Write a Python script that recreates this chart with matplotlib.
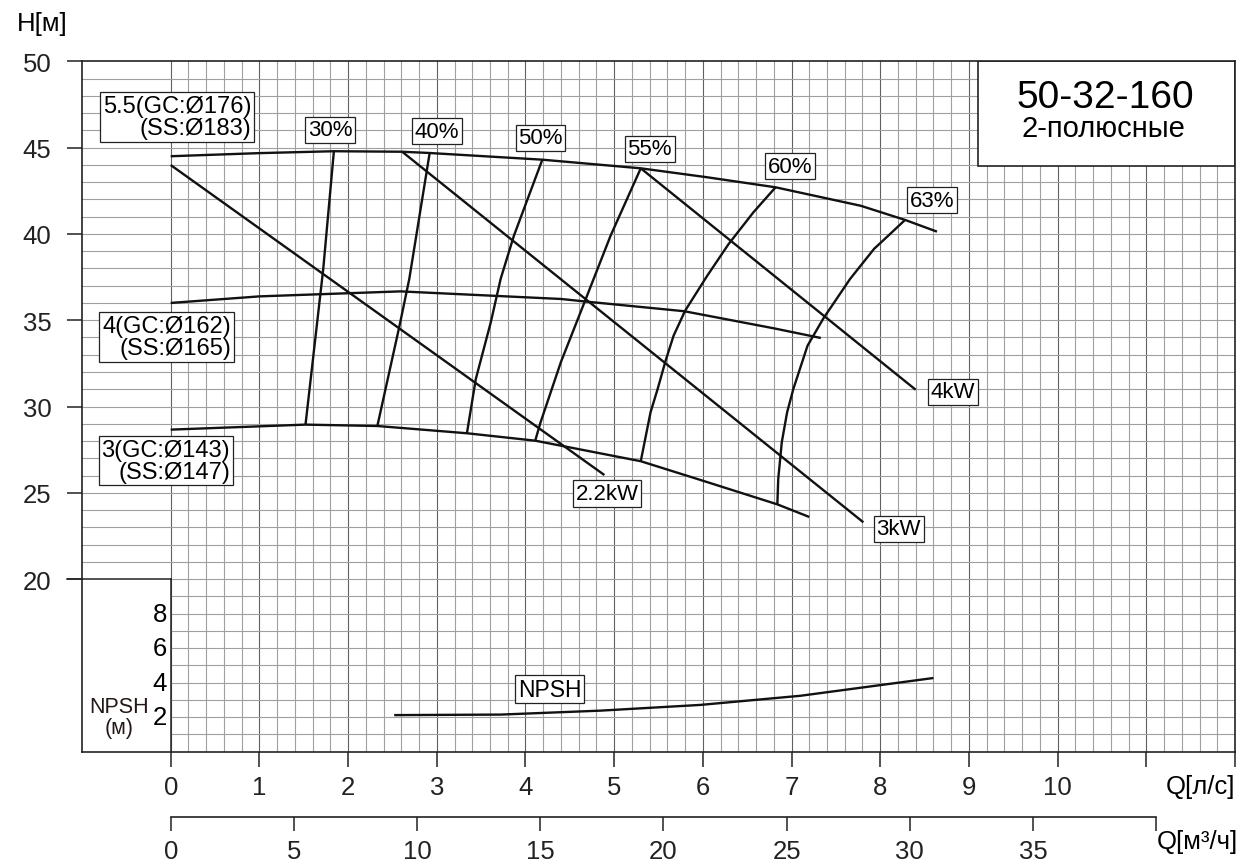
import numpy as np
import matplotlib
matplotlib.use("Agg")
from matplotlib import pyplot as plt
from matplotlib.patches import Rectangle

plt.rcParams['font.family'] = ['Liberation Sans', 'DejaVu Sans']

# H-Q curves, Q in l/s, H in m
q_55 = [0, 1.0, 1.84, 2.61, 2.91, 4.19, 5.30, 6.05, 6.82, 7.78, 8.28, 8.64]
h_55 = [44.50, 44.68, 44.79, 44.76, 44.69, 44.30, 43.80, 43.28, 42.70, 41.63, 40.81, 40.13]
q_4 = [0, 1.0, 2.59, 4.40, 4.70, 5.79, 6.80, 7.33]
h_4 = [36.00, 36.38, 36.67, 36.23, 36.07, 35.52, 34.53, 33.97]
q_3 = [0, 1.52, 2.33, 3.34, 4.11, 5.30, 6.00, 6.84, 7.20]
h_3 = [28.66, 28.95, 28.87, 28.45, 28.02, 26.83, 25.70, 24.33, 23.60]

# efficiency lines
eff = {
    '30%': ([1.84, 1.72, 1.52], [44.79, 37.97, 28.95]),
    '40%': ([2.92, 2.69, 2.58, 2.33], [44.69, 37.39, 34.68, 28.87]),
    '50%': ([4.19, 3.87, 3.72, 3.61, 3.44, 3.34], [44.30, 39.90, 37.39, 34.90, 31.59, 28.45]),
    '55%': ([5.30, 4.96, 4.68, 4.40, 4.17, 4.11], [43.80, 39.90, 36.23, 32.58, 29.08, 28.02]),
    '60%': ([6.82, 6.57, 6.29, 6.05, 5.80, 5.67, 5.58, 5.49, 5.41, 5.30],
            [42.70, 41.25, 39.41, 37.58, 35.55, 34.10, 32.65, 31.01, 29.66, 26.83]),
    '63%': ([8.28, 8.11, 7.93, 7.66, 7.36, 7.18, 7.02, 6.95, 6.89, 6.85, 6.84],
            [40.81, 39.99, 39.13, 37.39, 35.11, 33.52, 31.01, 29.66, 27.93, 25.80, 24.33]),
}
eff_lbl_pos = {'30%': (1.80, 46.02), '40%': (3.00, 45.96), '50%': (4.17, 45.57),
               '55%': (5.40, 44.92), '60%': (6.98, 43.92), '63%': (8.58, 41.96)}

# power lines
power = {
    '2.2kW': ([0, 4.89], [43.99, 26.03]),
    '3kW': ([2.61, 7.81], [44.76, 23.29]),
    '4kW': ([5.30, 8.40], [43.80, 30.97]),
}
power_lbl_pos = {'2.2kW': (4.92, 24.95), '3kW': (8.21, 22.92), '4kW': (8.82, 30.85)}

# NPSH curve (m)
q_npsh = [2.52, 3.72, 4.85, 5.97, 7.10, 8.60]
npsh = [2.12, 2.15, 2.38, 2.71, 3.24, 4.27]
npsh_base = 10  # NPSH 0 sits at H=10 on the chart

x_ticks = list(range(0, 13))
x_labels = [str(i) for i in range(0, 11)] + ['', '']
m3h_ticks = list(range(0, 45, 5))
m3h_labels = [str(i) for i in range(0, 40, 5)] + ['']
y_ticks = [20, 25, 30, 35, 40, 45, 50]
npsh_ticks = [2, 4, 6, 8]

fig = plt.figure(figsize=(12.4, 8.62), dpi=100)
ax = fig.add_axes([82 / 1240, (862 - 752.7) / 862, (1235 - 82) / 1240, 690.4 / 862])
ax.set_xlim(-1, 12)
ax.set_ylim(10, 50)

lc = '#111111'
grid_c = '#a0a0a0'
dark_grid = '#606060'
tsize = 18.5

# grid
for i, q in enumerate(np.arange(0, 12.01, 0.2)):
    col = dark_grid if i % 5 == 0 else grid_c
    ax.plot([q, q], [10, 50], color=col, lw=0.8, zorder=1)
for h in range(11, 50):
    x0 = -1 if h > 20 else 0
    ax.plot([x0, 12], [h, h], color=grid_c, lw=0.8, zorder=1)
ax.plot([-1.17, 0], [20, 20], color='#222', lw=1.1, zorder=2, clip_on=False)
ax.plot([0, 0], [10, 20], color='#222', lw=1.1, zorder=2)

# curves
kw = dict(color=lc, lw=1.7, zorder=3, solid_capstyle='butt', solid_joinstyle='round')
ax.plot(q_55, h_55, **kw)
ax.plot(q_4, h_4, **kw)
ax.plot(q_3, h_3, **kw)
for k, (q, h) in eff.items():
    ax.plot(q, h, **kw)
for k, (q, h) in power.items():
    ax.plot(q, h, **kw)
ax.plot(q_npsh, np.array(npsh) + npsh_base, **kw)

box = dict(boxstyle='square,pad=0.12', fc='white', ec='#222', lw=0.9)
for k, (x, y) in eff_lbl_pos.items():
    ax.text(x, y, k, ha='center', va='center', fontsize=16, bbox=box, zorder=5)
for k, (x, y) in power_lbl_pos.items():
    ax.text(x, y, k, ha='center', va='center', fontsize=16, bbox=box, zorder=5)
ax.text(4.27, 13.62, 'NPSH', ha='center', va='center', fontsize=16.5, bbox=box, zorder=5)

ax.text(0.07, 46.77, '5.5(GC:Ø176)\n(SS:Ø183)', ha='center', va='center',
        multialignment='right', fontsize=17, bbox=box, zorder=5, linespacing=1.0)
ax.text(-0.045, 34.03, '4(GC:Ø162)\n(SS:Ø165)', ha='center', va='center',
        multialignment='right', fontsize=17, bbox=box, zorder=5, linespacing=1.0)
ax.text(-0.056, 26.87, '3(GC:Ø143)\n(SS:Ø147)', ha='center', va='center',
        multialignment='right', fontsize=17, bbox=box, zorder=5, linespacing=1.0)

# title box
ax.add_patch(Rectangle((9.1, 43.93), 2.9, 6.07, fc='white', ec='#222', lw=1.2, zorder=4))
ax.text(10.54, 47.95, '50-32-160', ha='center', va='center', fontsize=28, zorder=5)
ax.text(10.52, 46.15, '2-полюсные', ha='center', va='center', fontsize=21, zorder=5)

# NPSH scale
for n in npsh_ticks:
    ax.text(-0.04, n + npsh_base, str(n), ha='right', va='center', fontsize=tsize)
ax.text(-0.586, 12.01, 'NPSH\n(м)', ha='center', va='center', fontsize=15.5,
        color='#231815', linespacing=1.0)

# axes styling
for s in ax.spines.values():
    s.set_color('#222')
    s.set_linewidth(1.2)
    s.set_zorder(6)
ax.set_yticks(y_ticks)
ax.set_yticklabels([str(v) for v in y_ticks])
ax.set_xticks(x_ticks)
ax.set_xticklabels(x_labels)
ax.tick_params(axis='y', direction='out', length=11, width=1.1, pad=11, labelsize=tsize, colors='#222')
ax.tick_params(axis='x', direction='out', length=11, width=1.1, pad=6, labelsize=tsize, colors='#222')
ax.text(-1.45, 52.2, 'H[м]', ha='center', va='center', fontsize=tsize, clip_on=False)
ax.annotate('Q[л/с]', xy=(12.0, 0), xycoords=('data', 'axes fraction'),
            xytext=(0.5, -24.7), textcoords='offset points', ha='right', va='center', fontsize=tsize)

# m3/h axis
sec = ax.secondary_xaxis(-0.0941, functions=(lambda q: q * 3.6, lambda m: m / 3.6))
sec.set_xticks(m3h_ticks)
sec.set_xticklabels(m3h_labels)
sec.spines['bottom'].set_bounds(0, 40)
sec.spines['bottom'].set_color('#222')
sec.spines['bottom'].set_linewidth(1.2)
sec.tick_params(direction='out', length=10, width=1.1, pad=6, labelsize=tsize, colors='#222')
ax.annotate('Q[м³/ч]', xy=(12.0, 0), xycoords=('data', 'axes fraction'),
            xytext=(2, -64), textcoords='offset points', ha='right', va='center', fontsize=tsize)

fig.savefig('out.png', dpi=100)
